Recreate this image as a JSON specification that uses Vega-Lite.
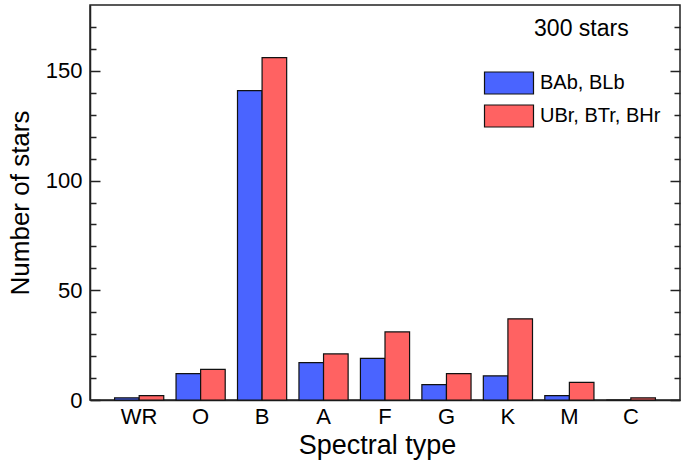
{
  "$schema": "https://vega.github.io/schema/vega-lite/v6.json",
  "width": 590,
  "height": 395,
  "autosize": {"type": "none"},
  "padding": {"left": 90, "top": 5, "right": 18, "bottom": 63},
  "background": "white",
  "config": {
    "font": "Liberation Sans",
    "view": {"stroke": "#222", "strokeWidth": 1.5},
    "axis": {"domainColor": "#222", "tickColor": "#222", "labelColor": "#000", "titleColor": "#000", "domainWidth": 1.5, "tickWidth": 1.5, "grid": false}
  },
  "data": {
    "values": [
      {"type": "WR", "group": "BAb, BLb", "n": 1},
      {"type": "WR", "group": "UBr, BTr, BHr", "n": 2},
      {"type": "O", "group": "BAb, BLb", "n": 12},
      {"type": "O", "group": "UBr, BTr, BHr", "n": 14},
      {"type": "B", "group": "BAb, BLb", "n": 141},
      {"type": "B", "group": "UBr, BTr, BHr", "n": 156},
      {"type": "A", "group": "BAb, BLb", "n": 17},
      {"type": "A", "group": "UBr, BTr, BHr", "n": 21},
      {"type": "F", "group": "BAb, BLb", "n": 19},
      {"type": "F", "group": "UBr, BTr, BHr", "n": 31},
      {"type": "G", "group": "BAb, BLb", "n": 7},
      {"type": "G", "group": "UBr, BTr, BHr", "n": 12},
      {"type": "K", "group": "BAb, BLb", "n": 11},
      {"type": "K", "group": "UBr, BTr, BHr", "n": 37},
      {"type": "M", "group": "BAb, BLb", "n": 2},
      {"type": "M", "group": "UBr, BTr, BHr", "n": 8},
      {"type": "C", "group": "BAb, BLb", "n": 0},
      {"type": "C", "group": "UBr, BTr, BHr", "n": 1}
    ]
  },
  "encoding": {
    "x": {
      "field": "type", "type": "nominal",
      "scale": {"domain": ["WR", "O", "B", "A", "F", "G", "K", "M", "C"], "paddingInner": 0.2, "paddingOuter": 0.4},
      "axis": {"title": "Spectral type", "labelAngle": 0, "ticks": false, "labelFontSize": 22, "labelPadding": 6, "titleFontSize": 27, "titleFontWeight": "normal", "titlePadding": 5, "titleX": 287}
    }
  },
  "layer": [
    {
      "mark": {"type": "bar", "stroke": "#111", "strokeWidth": 1.2},
      "encoding": {
        "xOffset": {"field": "group", "type": "nominal", "scale": {"paddingInner": 0, "paddingOuter": 0}},
        "y": {
          "field": "n", "type": "quantitative", "scale": {"domain": [0, 180], "nice": false},
          "axis": {
            "title": "Number of stars", "orient": "left",
            "values": [0, 50, 100, 150],
            "tickSize": -10,
            "labelPadding": 18,
            "labelFontSize": 22, "titleFontSize": 26, "titleFontWeight": "normal", "titlePadding": 12
          }
        },
        "color": {
          "field": "group", "type": "nominal",
          "scale": {"domain": ["BAb, BLb", "UBr, BTr, BHr"], "range": ["#4a64ff", "#ff6262"]},
          "legend": {
            "orient": "none", "legendX": 406, "legendY": 65, "title": null,
            "symbolType": "M-2,-0.9H2V0.9H-2Z", "symbolSize": 600,
            "symbolStrokeColor": "#111", "symbolStrokeWidth": 1.2,
            "labelFontSize": 20, "labelOffset": 18, "rowPadding": 5
          }
        }
      }
    },
    {
      "mark": {"type": "bar", "opacity": 0},
      "encoding": {
        "y": {
          "field": "n", "type": "quantitative",
          "axis": {
            "title": null, "orient": "left", "labels": false, "domain": false,
            "values": [10, 20, 30, 40, 60, 70, 80, 90, 110, 120, 130, 140, 160, 170],
            "tickSize": -6
          }
        }
      }
    },
    {
      "mark": {"type": "bar", "opacity": 0},
      "encoding": {
        "y": {
          "field": "n", "type": "quantitative",
          "axis": {
            "title": null, "orient": "right", "labels": false, "domain": false,
            "values": [0, 50, 100, 150],
            "tickSize": -10
          }
        }
      }
    },
    {
      "mark": {"type": "bar", "opacity": 0},
      "encoding": {
        "y": {
          "field": "n", "type": "quantitative",
          "axis": {
            "title": null, "orient": "right", "labels": false, "domain": false,
            "values": [10, 20, 30, 40, 60, 70, 80, 90, 110, 120, 130, 140, 160, 170],
            "tickSize": -6
          }
        }
      }
    },
    {
      "data": {"values": [{"label": "300 stars", "cat": "M", "v": 169}]},
      "mark": {"type": "text", "fontSize": 23, "align": "center", "baseline": "middle", "dx": 12, "color": "#000"},
      "encoding": {
        "x": {"field": "cat", "type": "nominal"},
        "y": {"field": "v", "type": "quantitative", "axis": null},
        "text": {"field": "label", "type": "nominal"}
      }
    }
  ],
  "resolve": {"axis": {"y": "independent"}}
}
